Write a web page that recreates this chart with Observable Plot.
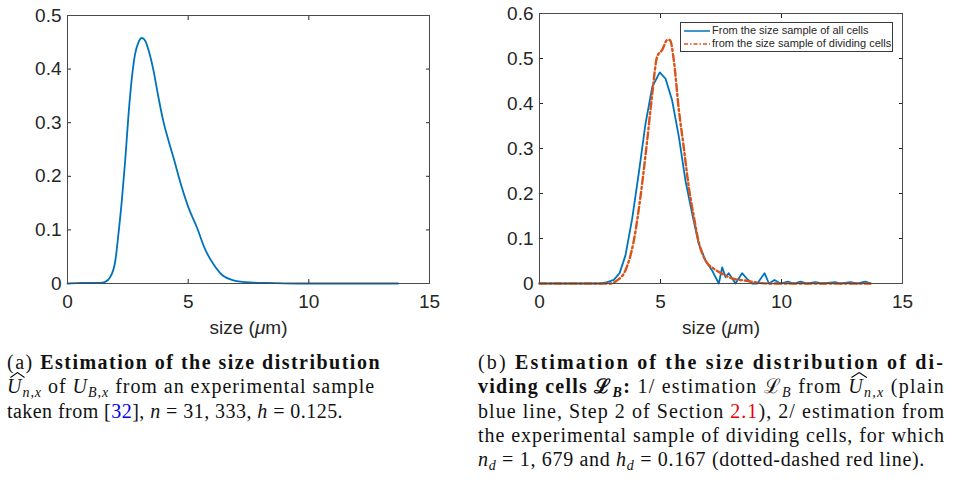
<!DOCTYPE html>
<html>
<head>
<meta charset="utf-8">
<script src="https://cdn.jsdelivr.net/npm/d3@7"></script>
<script src="https://cdn.jsdelivr.net/npm/@observablehq/plot@0.6"></script>
<style>
  html, body { margin: 0; padding: 0; background: #fff; }
  body { position: relative; width: 953px; height: 496px; overflow: hidden; }
  .panel { position: absolute; top: 0; }
  #panelA { left: 0; }
  #panelB { left: 470px; }
  .panel svg { overflow: visible; background: transparent; }
  #legend {
    position: absolute; left: 680px; top: 22px; width: 211px; height: 28px;
    border: 1px solid #3a3a3a; background: #fff;
    font-family: "Liberation Sans", Arial, sans-serif; font-size: 11px; color: #262626;
  }
  #legend .row { position: absolute; left: 3px; height: 13px; line-height: 13px; white-space: nowrap; }
  #legend svg { vertical-align: middle; margin-right: 2px; }
  .cap { position: absolute; font-family: "Liberation Serif", "Times New Roman", serif; font-size: 20px; color: #111; }
  .cap .ln { height: 24.3px; line-height: 24.3px; white-space: nowrap; }
  .cap .ln > span { display: inline-block; }
  .cap sub { font-size: 0.7em; vertical-align: -0.28em; line-height: 0; font-style: italic; }
  .cap b { font-weight: bold; }
  .hat { position: relative; display: inline-block; font-style: italic; line-height: 1; }
  .hat::before {
    content: ""; position: absolute; left: 3px; right: -3px; top: -4px; height: 6px;
    background: url("data:image/svg+xml;utf8,<svg xmlns='http://www.w3.org/2000/svg' viewBox='0 0 16 6' preserveAspectRatio='none'><path d='M0.5 5.5 L8 0.6 L15.5 5.5' fill='none' stroke='black' stroke-width='1.1'/></svg>") no-repeat;
    background-size: 100% 100%;
  }
  .ref { color: #0000ee; }
  .sec { color: #ee0000; }
</style>
</head>
<body>
<div id="panelA" class="panel"></div>
<div id="panelB" class="panel"></div>
<div id="legend">
  <div class="row" style="top:1px"><svg width="26" height="4"><line x1="0" y1="2" x2="26" y2="2" stroke="#0072BD" stroke-width="1.5"/></svg>From the size sample of all cells</div>
  <div class="row" style="top:14px"><svg width="26" height="4"><line x1="0" y1="2" x2="26" y2="2" stroke="#D95319" stroke-width="1.5" stroke-dasharray="4,2,1.5,2"/></svg>from the size sample of dividing cells</div>
</div>

<div class="cap" style="left:7px; top:350px">
  <div class="ln" data-w="374"><span>(a) <b>Estimation of the size distribution</b></span></div>
  <div class="ln" data-w="368"><span><span class="hat">U</span><sub>n,x</sub> of <i>U</i><sub>B,x</sub> from an experimental sample</span></div>
  <div class="ln" data-w="336"><span>taken from [<span class="ref">32</span>], <i>n</i> = 31<i>,</i> 333, <i>h</i> = 0.125.</span></div>
</div>
<div class="cap" style="left:478px; top:350px">
  <div class="ln" data-w="467"><span>(b) <b>Estimation of the size distribution of di-</b></span></div>
  <div class="ln" data-w="467"><span><b>viding cells ℒ<sub>B</sub>:</b> 1/ estimation ℒ<sub>B</sub> from <span class="hat">U</span><sub>n,x</sub> (plain</span></div>
  <div class="ln" data-w="467"><span>blue line, Step 2 of Section <span class="sec">2.1</span>), 2/ estimation from</span></div>
  <div class="ln" data-w="467"><span>the experimental sample of dividing cells, for which</span></div>
  <div class="ln" data-w="447"><span><i>n</i><sub>d</sub> = 1<i>,</i> 679 and <i>h</i><sub>d</sub> = 0.167 (dotted-dashed red line).</span></div>
</div>

<script>
// Axis ticks
const xTicks = [0, 5, 10, 15];
const yTicksA = [0, 0.1, 0.2, 0.3, 0.4, 0.5];
const yTicksB = [0, 0.1, 0.2, 0.3, 0.4, 0.5, 0.6];

// (a) kernel estimate of the size distribution, all cells
const sizeA = [0, 0.6, 1.35, 1.56, 1.77, 1.98, 2.11, 2.25, 2.39, 2.53, 2.67, 2.80, 2.94, 3.08, 3.22, 3.36, 3.56, 3.77, 3.98, 4.19, 4.39, 4.74, 5.01, 5.36, 5.70, 6.05, 6.46, 6.88, 7.57, 8.26, 9.5, 11.0, 13.7];
const densA = [0, 0.001, 0.001, 0.003, 0.012, 0.042, 0.092, 0.154, 0.229, 0.316, 0.385, 0.428, 0.450, 0.458, 0.453, 0.435, 0.398, 0.347, 0.301, 0.266, 0.235, 0.179, 0.142, 0.105, 0.064, 0.036, 0.014, 0.006, 0.002, 0.001, 0, 0, 0];

// (b) dividing-cell distribution estimated from the all-cells sample
const sizeAll = [0, 2.52, 2.80, 3.07, 3.31, 3.55, 3.83, 4.10, 4.38, 4.66, 4.97, 5.21, 5.48, 5.76, 6.03, 6.31, 6.58, 6.86, 7.13, 7.41, 7.55, 7.69, 7.82, 8.10, 8.37, 8.58, 8.79, 9.00, 9.30, 9.48, 9.71, 9.96, 10.26, 10.51, 10.79, 11.06, 11.40, 11.68, 12.23, 12.44, 12.85, 13.13, 13.47, 13.68];
const densAll = [0, 0, 0.003, 0.008, 0.023, 0.062, 0.144, 0.244, 0.355, 0.437, 0.469, 0.455, 0.407, 0.326, 0.229, 0.155, 0.088, 0.051, 0.029, 0, 0.036, 0.014, 0.023, 0, 0.023, 0.010, 0, 0, 0.023, 0, 0.008, 0, 0.004, 0, 0.004, 0, 0.003, 0, 0.003, 0, 0.003, 0, 0.004, 0];

// (b) dividing-cell distribution estimated from the dividing-cell sample
const sizeDiv = [0, 2.93, 3.21, 3.55, 3.90, 4.17, 4.45, 4.66, 4.86, 5.07, 5.28, 5.39, 5.55, 5.76, 5.96, 6.17, 6.38, 6.58, 6.86, 7.20, 7.61, 8.03, 8.44, 9.00, 9.55, 13.68];
const densDiv = [0, 0, 0.007, 0.029, 0.096, 0.192, 0.318, 0.422, 0.504, 0.519, 0.541, 0.541, 0.496, 0.385, 0.303, 0.214, 0.148, 0.092, 0.051, 0.033, 0.020, 0.010, 0.007, 0.002, 0, 0];

const blue = "#0072BD";
const orange = "#D95319";
const yFmt = d => (d === 0 ? "0" : String(+d.toFixed(1)));

// MATLAB-style box: inward ticks on all four sides
function boxAxes(yTicks) {
  return [
    Plot.axisX({anchor: "bottom", ticks: xTicks, tickSize: -4, tickPadding: 15, label: "size (μm)", labelAnchor: "center", labelArrow: "none", labelOffset: 50}),
    Plot.axisX({anchor: "top", ticks: xTicks, tickSize: -4, tickFormat: () => "", label: null}),
    Plot.axisY({anchor: "left", ticks: yTicks, tickSize: -4, tickPadding: 10, tickFormat: yFmt, label: null}),
    Plot.axisY({anchor: "right", ticks: yTicks, tickSize: -4, tickFormat: () => "", label: null}),
    Plot.frame({stroke: "#4a4a4a", strokeWidth: 1})
  ];
}

function italicMu(svg) {
  svg.querySelectorAll('g[aria-label="x-axis label"] text').forEach(t => {
    t.innerHTML = 'size (<tspan font-style="italic">μ</tspan>m)';
  });
}

const common = {
  height: 345,
  marginTop: 15,
  marginBottom: 62,
  x: {domain: [0, 15]},
  style: {fontFamily: "Liberation Sans, Arial, sans-serif", fontSize: "19px", color: "#262626", background: "transparent"}
};

const chartA = Plot.plot({
  ...common,
  width: 465,
  marginLeft: 67,
  marginRight: 36,
  y: {domain: [0, 0.5]},
  marks: [
    Plot.line({length: sizeA.length}, {x: sizeA, y: densA, stroke: blue, strokeWidth: 1.8, curve: "monotone-x"}),
    ...boxAxes(yTicksA)
  ]
});
italicMu(chartA);
document.getElementById("panelA").appendChild(chartA);

const chartB = Plot.plot({
  ...common,
  width: 483,
  marginTop: 13,
  marginLeft: 69,
  marginRight: 51,
  y: {domain: [0, 0.6]},
  marks: [
    Plot.line({length: sizeAll.length}, {x: sizeAll, y: densAll, stroke: blue, strokeWidth: 1.8}),
    Plot.line({length: sizeDiv.length}, {x: sizeDiv, y: densDiv, stroke: orange, strokeWidth: 2.4, strokeDasharray: "7,3,2,3", curve: "monotone-x"}),
    ...boxAxes(yTicksB)
  ]
});
italicMu(chartB);
document.getElementById("panelB").appendChild(chartB);

// Fit each caption line to its typeset width
document.querySelectorAll(".cap .ln").forEach(ln => {
  const span = ln.firstElementChild;
  const target = +ln.dataset.w;
  const w = span.getBoundingClientRect().width;
  const n = span.textContent.length;
  span.style.letterSpacing = ((target - w) / n) + "px";
});
</script>
</body>
</html>
